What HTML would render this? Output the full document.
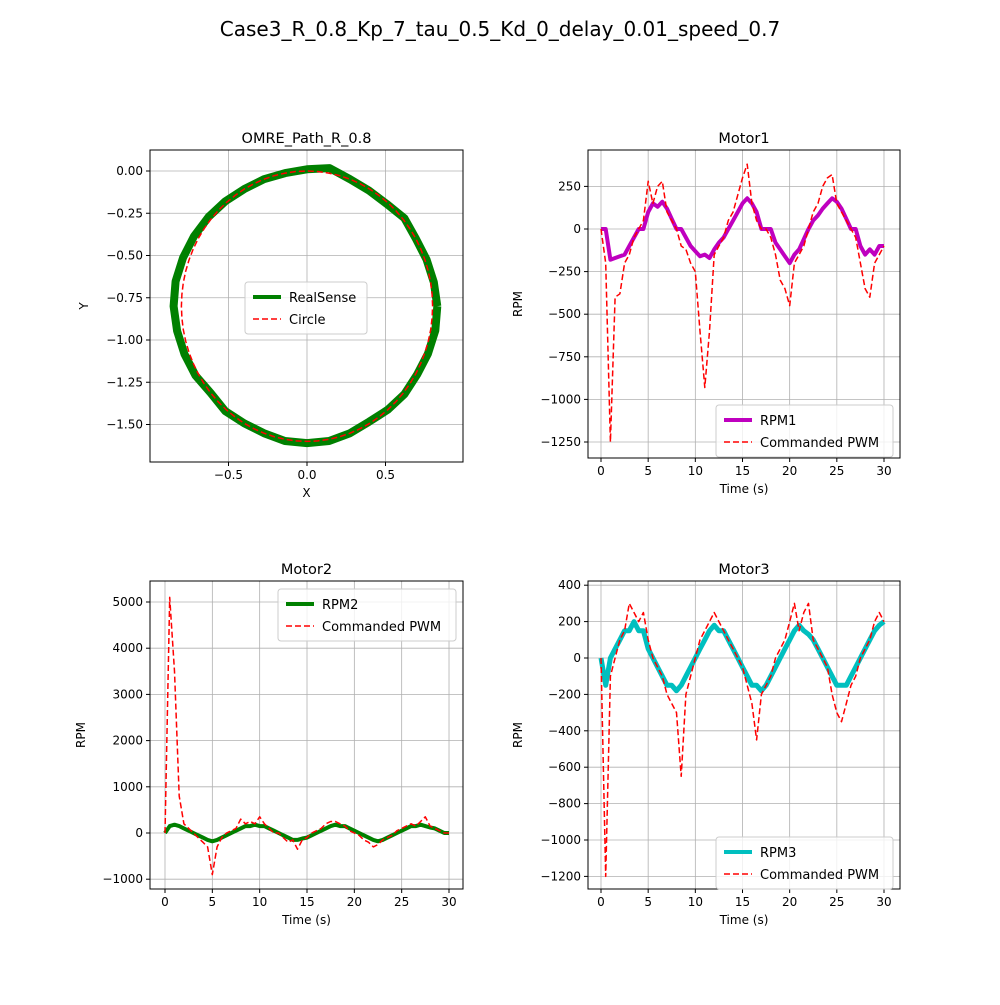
<!DOCTYPE html>
<html><head><meta charset="utf-8"><style>
body{margin:0;background:#fff}
svg{font-family:"DejaVu Sans","Liberation Sans",sans-serif}
</style></head><body>
<svg id="c" width="1000" height="1000" xmlns="http://www.w3.org/2000/svg">
<rect width="1000" height="1000" fill="#fff"/>
<text x="500" y="36" text-anchor="middle" font-size="20">Case3_R_0.8_Kp_7_tau_0.5_Kd_0_delay_0.01_speed_0.7</text>
</svg>
<script>
// ---- data ----
const times=[];for(let i=0;i<=60;i++)times.push(i*0.5);
const rpm1=[0,0,-180,-170,-160,-150,-100,-50,0,0,100,150,130,160,120,60,0,0,-50,-100,-130,-160,-150,-170,-120,-80,-50,0,50,100,150,180,150,100,0,0,0,-80,-120,-160,-200,-150,-120,-60,0,50,80,120,150,180,160,120,60,0,0,-100,-150,-120,-150,-100,-100];
const pwm1=[0,-200,-1250,-400,-380,-200,-150,-50,0,50,280,150,250,280,100,50,0,-100,-120,-200,-250,-600,-930,-600,-150,-100,-50,50,100,200,300,380,150,50,0,0,-50,-150,-300,-350,-450,-200,-150,-100,0,100,150,250,300,320,150,100,50,0,-50,-200,-350,-400,-200,-150,-100];
const rpm2=[0,150,180,150,100,50,0,-50,-100,-150,-180,-150,-100,-50,0,50,100,150,150,180,150,150,100,50,0,-50,-100,-150,-150,-120,-100,-50,0,50,100,150,180,150,150,100,50,0,-50,-100,-150,-180,-150,-100,-50,0,50,100,150,150,180,150,120,100,50,0,0];
const pwm2=[0,5100,3500,800,200,100,0,-100,-200,-300,-900,-300,-100,0,50,100,300,200,250,200,350,200,100,0,0,-100,-200,-150,-350,-150,-100,0,50,100,200,250,250,200,150,50,0,-50,-150,-200,-300,-250,-150,-100,-50,50,100,150,200,150,250,350,150,100,50,0,0];
const rpm3=[0,-150,0,50,100,150,150,200,150,150,50,0,-50,-100,-150,-150,-180,-150,-100,-50,0,50,100,150,180,150,150,100,50,0,-50,-100,-150,-150,-180,-150,-100,-50,0,50,100,150,180,150,130,100,50,0,-50,-100,-150,-150,-150,-100,-50,0,50,100,150,180,200];
const pwm3=[0,-1200,-100,0,100,150,300,250,200,250,100,0,-50,-100,-200,-250,-300,-650,-200,-100,0,100,150,200,250,200,150,100,50,0,-50,-150,-250,-450,-200,-150,-100,0,50,100,200,300,150,250,300,100,50,0,-50,-200,-300,-350,-250,-150,-100,0,50,100,200,250,200];
const pathAngles=[0,10,20,30,40,50,60,70,80,90,100,110,120,130,140,150,160,170,180,190,200,210,220,230,240,250,260,270,280,290,300,310,320,330,340,350,360];
const pathRadii=[0.83,0.82,0.81,0.80,0.81,0.79,0.79,0.80,0.83,0.81,0.80,0.80,0.80,0.81,0.82,0.83,0.84,0.85,0.85,0.84,0.83,0.82,0.80,0.81,0.80,0.80,0.81,0.81,0.81,0.80,0.79,0.80,0.81,0.81,0.82,0.83,0.83];
const circleAngles=[];for(let a=0;a<=360;a+=5)circleAngles.push(a);
const xTicks1=[-0.5,0.0,0.5], xTickLabels1=["−0.5","0.0","0.5"];
const yTicks1=[0,-0.25,-0.5,-0.75,-1.0,-1.25,-1.5], yTickLabels1=["0.00","−0.25","−0.50","−0.75","−1.00","−1.25","−1.50"];
const tTicks=[0,5,10,15,20,25,30];
const yTicksM1=[250,0,-250,-500,-750,-1000,-1250];
const yTicksM2=[5000,4000,3000,2000,1000,0,-1000];
const yTicksM3=[400,200,0,-200,-400,-600,-800,-1000,-1200];

const svg=document.getElementById('c');const NS='http://www.w3.org/2000/svg';
function el(tag,attrs,parent){const e=document.createElementNS(NS,tag);for(const k in attrs)e.setAttribute(k,attrs[k]);(parent||svg).appendChild(e);return e;}
function fmt(v){return v<0?'−'+(-v):''+v;}

function axes(name,box,sx,sy,xt,xtl,yt,ytl,title,xl,yl){
  const g=el('g',{});
  
  
  xt.forEach(v=>{el('line',{x1:sx(v),x2:sx(v),y1:box.y0,y2:box.y1,stroke:'#b0b0b0','stroke-width':0.8},g);});
  yt.forEach(v=>{el('line',{x1:box.x0,x2:box.x1,y1:sy(v),y2:sy(v),stroke:'#b0b0b0','stroke-width':0.8},g);});
  xt.forEach((v,i)=>{el('line',{x1:sx(v),x2:sx(v),y1:box.y1,y2:box.y1+4,stroke:'#000'},g);
    const t=el('text',{x:sx(v),y:box.y1+17,'text-anchor':'middle','font-size':12},g);t.textContent=xtl[i];
    });
  yt.forEach((v,i)=>{el('line',{x1:box.x0-4,x2:box.x0,y1:sy(v),y2:sy(v),stroke:'#000'},g);
    const t=el('text',{x:box.x0-7,y:sy(v)+4,'text-anchor':'end','font-size':12},g);t.textContent=ytl[i];
    });
  const tt=el('text',{x:(box.x0+box.x1)/2,y:box.y0-7,'text-anchor':'middle','font-size':14.5},g);tt.textContent=title;
  
  const xa=el('text',{x:(box.x0+box.x1)/2,y:box.y1+35,'text-anchor':'middle','font-size':12},g);xa.textContent=xl;
  
  const ya=el('text',{x:0,y:0,'text-anchor':'middle','font-size':12,transform:`translate(${box.yl},${(box.y0+box.y1)/2}) rotate(-90)`},g);ya.textContent=yl;
  
  const cid='clip'+name;const cp=el('clipPath',{id:cid},g);el('rect',{x:box.x0,y:box.y0,width:box.x1-box.x0,height:box.y1-box.y0},cp);
  const pg=el('g',{'clip-path':`url(#${cid})`},g);
  return {g,pg};
}
function frame(g,box){el('rect',{x:box.x0,y:box.y0,width:box.x1-box.x0,height:box.y1-box.y0,fill:'none',stroke:'#000','stroke-width':1},g);}
function line(pg,xs,ys,sx,sy,color,w,dash,name){
  const d=xs.map((x,i)=>(i?'L':'M')+sx(x).toFixed(1)+','+sy(ys[i]).toFixed(1)).join('');
  const p=el('path',{d,fill:'none',stroke:color,'stroke-width':w,'stroke-linejoin':'round'},pg);
  if(dash)p.setAttribute('stroke-dasharray',dash);
  
}
function legend(g,x,y,w,entries){
  const lg=el('g',{},g);
  
  el('rect',{x,y,width:w,height:entries.length*22+8,fill:'#fff','fill-opacity':0.8,stroke:'#ccc',rx:3},lg);
  entries.forEach((e,i)=>{const yy=y+15+i*22;
    const l=el('line',{x1:x+8,x2:x+36,y1:yy,y2:yy,stroke:e.c,'stroke-width':e.w},lg);if(e.d)l.setAttribute('stroke-dasharray',e.d);
    const t=el('text',{x:x+44,y:yy+5,'font-size':13},lg);t.textContent=e.t;
    });
}

// Path plot
{const box={x0:150,x1:463,y0:150,y1:462,yl:88};
 const sx=v=>307+157*v, sy=v=>171-169*v;
 const a=axes('path-subplot',box,sx,sy,xTicks1,xTickLabels1,yTicks1,yTickLabels1,'OMRE_Path_R_0.8','X','Y');
 const gx=pathAngles.map((d,i)=>pathRadii[i]*Math.cos(d*Math.PI/180));
 const gy=pathAngles.map((d,i)=>-0.8+pathRadii[i]*Math.sin(d*Math.PI/180));
 line(a.pg,gx,gy,sx,sy,'#008000',8,null,'realsense-path');
 const cx=circleAngles.map(d=>0.8*Math.cos(d*Math.PI/180)), cy=circleAngles.map(d=>-0.8+0.8*Math.sin(d*Math.PI/180));
 line(a.pg,cx,cy,sx,sy,'#ff0000',1.5,'6,3','circle-path');
 frame(a.g,box);
 legend(a.g,245,282,122,[{c:'#008000',w:4,t:'RealSense'},{c:'#ff0000',w:1.5,d:'6,3',t:'Circle'}]);
}
// Motor1
{const box={x0:588,x1:900,y0:150,y1:458,yl:522};
 const sx=v=>601+9.433*v, sy=v=>229-0.1704*v;
 const a=axes('motor1-subplot',box,sx,sy,tTicks,tTicks.map(fmt),yTicksM1,yTicksM1.map(fmt),'Motor1','Time (s)','RPM');
 line(a.pg,times,rpm1,sx,sy,'#bf00bf',4,null,'rpm1-line');
 line(a.pg,times,pwm1,sx,sy,'#ff0000',1.5,'6,3','pwm1-line');
 frame(a.g,box);
 legend(a.g,716,405,177,[{c:'#bf00bf',w:4,t:'RPM1'},{c:'#ff0000',w:1.5,d:'6,3',t:'Commanded PWM'}]);
}
// Motor2
{const box={x0:150,x1:463,y0:581,y1:889,yl:85};
 const sx=v=>165+9.467*v, sy=v=>833-0.0462*v;
 const a=axes('motor2-subplot',box,sx,sy,tTicks,tTicks.map(fmt),yTicksM2,yTicksM2.map(fmt),'Motor2','Time (s)','RPM');
 line(a.pg,times,rpm2,sx,sy,'#008000',4,null,'rpm2-line');
 line(a.pg,times,pwm2,sx,sy,'#ff0000',1.5,'6,3','pwm2-line');
 frame(a.g,box);
 legend(a.g,278,589,178,[{c:'#008000',w:4,t:'RPM2'},{c:'#ff0000',w:1.5,d:'6,3',t:'Commanded PWM'}]);
}
// Motor3
{const box={x0:588,x1:900,y0:581,y1:889,yl:522};
 const sx=v=>601+9.433*v, sy=v=>658-0.182*v;
 const a=axes('motor3-subplot',box,sx,sy,tTicks,tTicks.map(fmt),yTicksM3,yTicksM3.map(fmt),'Motor3','Time (s)','RPM');
 line(a.pg,times,rpm3,sx,sy,'#00bfbf',5,null,'rpm3-line');
 line(a.pg,times,pwm3,sx,sy,'#ff0000',1.5,'6,3','pwm3-line');
 frame(a.g,box);
 legend(a.g,716,837,177,[{c:'#00bfbf',w:4,t:'RPM3'},{c:'#ff0000',w:1.5,d:'6,3',t:'Commanded PWM'}]);
}
</script>
</body></html>
